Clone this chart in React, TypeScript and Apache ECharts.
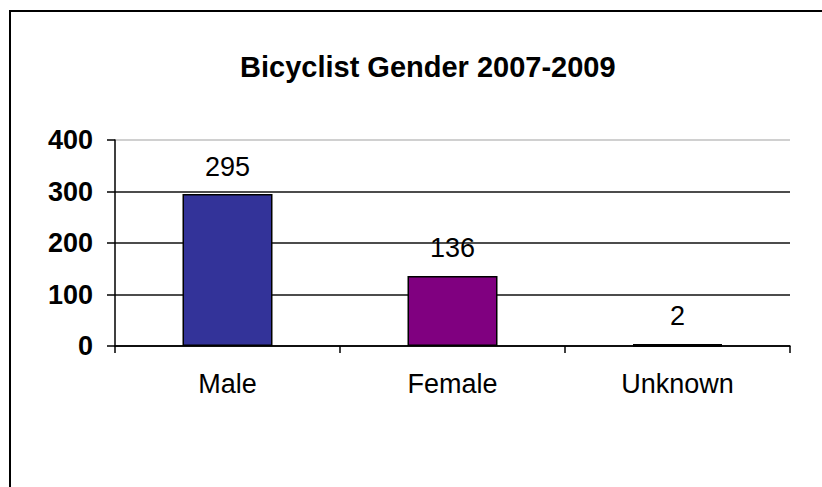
import React, { useEffect, useRef } from "react";
import * as echarts from "echarts";

const categories = ["Male", "Female", "Unknown"];
const values = [295, 136, 2];
const barColors = ["#333399", "#800080", "#000000"];
const yTicks = [0, 100, 200, 300, 400];
const titleText = "Bicyclist Gender 2007-2009";

export default function App() {
  const ref = useRef<HTMLDivElement>(null);
  useEffect(() => {
    if (!ref.current) return;
    const chart = echarts.init(ref.current, null, { renderer: "svg" });
    const font = "'Liberation Sans', Arial, sans-serif";
    chart.setOption({
      animation: false,
      backgroundColor: "#ffffff",
      textStyle: { fontFamily: font },
      title: {
        text: titleText,
        left: 240,
        top: 52,
        padding: 0,
        textStyle: { fontSize: 29, fontWeight: "bold", color: "#000", fontFamily: font },
      },
      graphic: [
        {
          type: "rect",
          shape: { x: 10, y: 11, width: 840, height: 520 },
          style: { fill: "none", stroke: "#000", lineWidth: 2 },
          silent: true,
        },
      ],
      grid: { left: 115, right: 32, top: 140, bottom: 141, containLabel: false },
      xAxis: {
        type: "category",
        data: categories,
        boundaryGap: true,
        axisLine: { lineStyle: { color: "#000", width: 1.5 } },
        axisTick: { show: true, alignWithLabel: false, length: 7, lineStyle: { color: "#000", width: 1.5 } },
        axisLabel: { color: "#000", fontSize: 27, margin: 24, fontFamily: font },
      },
      yAxis: {
        type: "value",
        min: yTicks[0],
        max: yTicks[yTicks.length - 1],
        interval: 100,
        axisLine: { show: true, lineStyle: { color: "#000", width: 1.5 } },
        axisTick: { show: true, length: 8, lineStyle: { color: "#000", width: 1.5 } },
        axisLabel: { color: "#000", fontSize: 27, fontWeight: "bold", margin: 22, fontFamily: font },
        splitLine: {
          show: true,
          lineStyle: { color: ["#000", "#111", "#111", "#111", "#c0c0c0"], width: 1.5 },
        },
      },
      series: [
        {
          type: "bar",
          barWidth: "40%",
          data: values.map((v, i) => ({
            value: v,
            itemStyle: {
              color: barColors[i],
              borderColor: "#000",
              borderWidth: v < 10 ? 3 : 1.5,
            },
          })),
          label: {
            show: true,
            position: "top",
            distance: 14,
            color: "#000",
            fontSize: 27,
            fontFamily: font,
          },
        },
      ],
    });
    return () => chart.dispose();
  }, []);
  return (
    <div
      ref={ref}
      style={{ position: "absolute", left: 0, top: 0, width: 822, height: 487 }}
    />
  );
}
